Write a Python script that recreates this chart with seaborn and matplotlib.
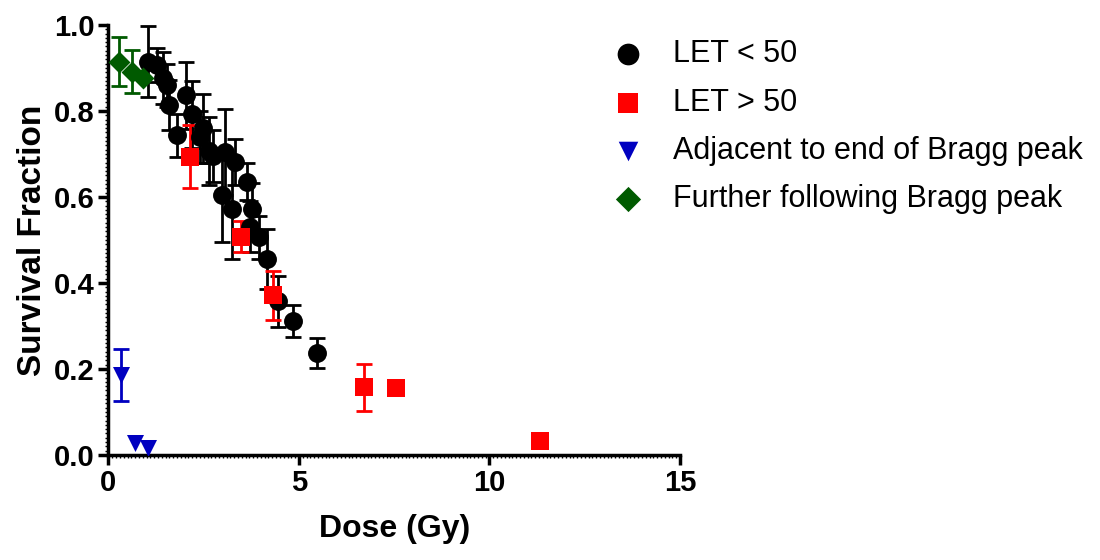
import numpy as np
import pandas as pd
import matplotlib
matplotlib.use("Agg")
import matplotlib.pyplot as plt
import seaborn as sns
from matplotlib.ticker import MultipleLocator, FormatStrFormatter

# ---- data ----
let_lo_dose = [1.04, 1.27, 1.44, 1.53, 1.59, 2.03, 2.18, 1.79, 2.48, 2.40, 2.64, 2.74,
               3.07, 3.32, 3.63, 2.97, 3.23, 3.78, 3.71, 3.96, 4.15, 4.46, 4.85, 5.48]
let_lo_sf = [0.915, 0.907, 0.876, 0.860, 0.814, 0.836, 0.792, 0.744, 0.760, 0.740, 0.707, 0.695,
             0.705, 0.682, 0.636, 0.605, 0.571, 0.572, 0.531, 0.506, 0.455, 0.357, 0.312, 0.237]
let_lo_err = [0.083, 0.04, 0.06, 0.05, 0.058, 0.078, 0.078, 0.05, 0.08, 0.06, 0.08, 0.06,
              0.10, 0.054, 0.044, 0.109, 0.116, 0.06, 0.06, 0.05, 0.07, 0.06, 0.037, 0.034]

let_hi_dose = [2.14, 3.47, 4.33, 6.71, 7.54, 11.32]
let_hi_sf = [0.694, 0.508, 0.372, 0.157, 0.155, 0.033]
let_hi_err = [0.074, 0.035, 0.057, 0.055, 0.0, 0.0]

adj_dose = [0.32, 0.70, 1.04]
adj_sf = [0.186, 0.027, 0.016]
adj_err = [0.06, 0.0, 0.0]

fur_dose = [0.28, 0.61, 0.90]
fur_sf = [0.915, 0.891, 0.876]
fur_err = [0.056, 0.05, 0.0]

labels = ["LET < 50", "LET > 50", "Adjacent to end of Bragg peak", "Further following Bragg peak"]
colors = ["#000000", "#FF0000", "#0000C0", "#005A00"]
markers = ["o", "s", "v", "D"]
sizes = [185, 165, 150, 125]

x_ticks = [0, 5, 10, 15]
y_ticks = [0.0, 0.2, 0.4, 0.6, 0.8, 1.0]

# ---- figure ----
sns.set_style("ticks")
plt.rcParams["font.family"] = ["Liberation Sans", "DejaVu Sans"]
plt.rcParams["text.color"] = "black"
plt.rcParams["axes.labelcolor"] = "black"

fig = plt.figure(figsize=(11, 5.6), dpi=100)
ax = fig.add_axes([0.0986, 0.1875, 0.5196, 0.7679])

series = [
    (let_lo_dose, let_lo_sf, let_lo_err),
    (let_hi_dose, let_hi_sf, let_hi_err),
    (adj_dose, adj_sf, adj_err),
    (fur_dose, fur_sf, fur_err),
]

frames = []
for (d, s, e), lab in zip(series, labels):
    frames.append(pd.DataFrame({"dose": d, "sf": s, "err": e, "group": lab}))
df = pd.concat(frames, ignore_index=True)

# error bars
for (d, s, e), col in zip(series, colors):
    d = np.asarray(d); s = np.asarray(s); e = np.asarray(e)
    m = e > 0
    ax.errorbar(d[m], s[m], yerr=e[m], fmt="none", ecolor=col, elinewidth=2.0,
                capsize=5.5, capthick=2.0, zorder=2)

# markers
for lab, col, mk, sz in zip(labels, colors, markers, sizes):
    sub = df[df["group"] == lab]
    sns.scatterplot(data=sub, x="dose", y="sf", ax=ax, color=col, marker=mk, s=sz,
                    edgecolor=col, linewidth=0, label=lab, zorder=3)

ax.set_xlim(0, 15)
ax.set_ylim(0, 1.0)
ax.set_xticks(x_ticks)
ax.set_yticks(y_ticks)
ax.yaxis.set_major_formatter(FormatStrFormatter("%.1f"))
ax.xaxis.set_minor_locator(MultipleLocator(0.1))
ax.yaxis.set_minor_locator(MultipleLocator(0.01))

for side in ["top", "right"]:
    ax.spines[side].set_visible(False)
for side in ["left", "bottom"]:
    ax.spines[side].set_linewidth(2.5)
    ax.spines[side].set_color("black")

ax.tick_params(axis="both", which="major", direction="out", length=7, width=2.5,
               labelsize=21, colors="black", labelcolor="black", pad=3)
ax.tick_params(axis="both", which="minor", direction="out", length=2.5, width=1.0, colors="black")
for t in ax.get_xticklabels() + ax.get_yticklabels():
    t.set_fontweight("bold")

ax.set_xlabel("Dose (Gy)", fontsize=23, fontweight="bold", labelpad=12, color="black")
ax.set_ylabel("Survival Fraction", fontsize=24, fontweight="bold", labelpad=4, color="black")

handles, labs = ax.get_legend_handles_labels()
if ax.get_legend():
    ax.get_legend().remove()
leg = fig.legend(handles, labs, loc="upper left", bbox_to_anchor=(0.5545, 0.930),
                 frameon=False, fontsize=22, handlelength=1.2, handletextpad=0.85,
                 labelspacing=0.6, borderpad=0, borderaxespad=0, markerscale=1.15)
for h in leg.legend_handles:
    try:
        h.set_linewidth(0)
    except Exception:
        pass
for t in leg.get_texts():
    t.set_color("black")

fig.savefig("out.png", dpi=100)
